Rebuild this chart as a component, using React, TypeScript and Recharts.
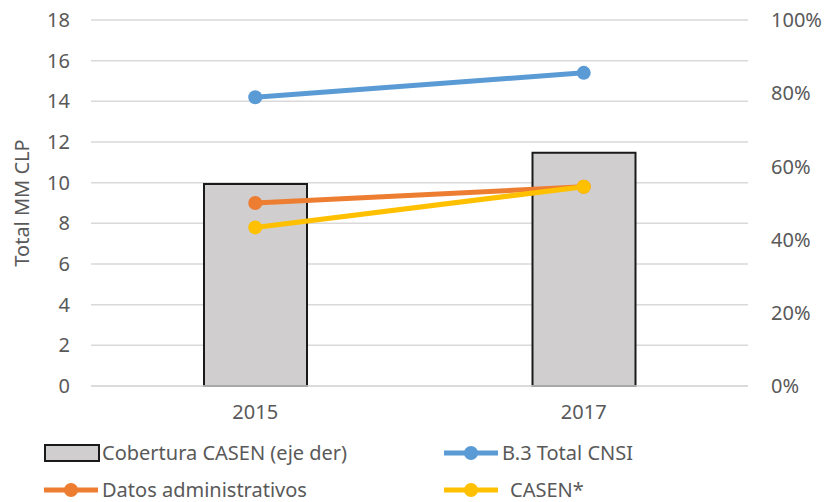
import React from "react";
import {
  ComposedChart,
  Bar,
  Line,
  XAxis,
  YAxis,
  CartesianGrid,
  Legend,
} from "recharts";

const years = ["2015", "2017"];
const coberturaCasen = [55.2, 63.7]; // % (eje der)
const totalCnsi = [14.2, 15.4];
const datosAdministrativos = [9.0, 9.8];
const casen = [7.8, 9.8];

const leftTicks = [0, 2, 4, 6, 8, 10, 12, 14, 16, 18];
const rightTicks = [0, 20, 40, 60, 80, 100];

const FONT = "'Noto Sans', sans-serif";
const TEXT = "#595959";
const FS = 20;

const data = years.map((year, i) => ({
  year,
  cobertura: coberturaCasen[i],
  cnsi: totalCnsi[i],
  datos: datosAdministrativos[i],
  casen: casen[i],
}));

function LineIcon({ color }: { color: string }) {
  return (
    <svg width={58} height={16} style={{ display: "block" }}>
      <line x1={2} y1={8} x2={56} y2={8} stroke={color} strokeWidth={5} />
      <circle cx={29} cy={8} r={7} fill={color} />
    </svg>
  );
}

function BarIcon() {
  return (
    <svg width={56} height={18} style={{ display: "block" }}>
      <rect x={1} y={1} width={54} height={16} fill="#D0CECE" stroke="#1a1a1a" strokeWidth={2} />
    </svg>
  );
}

function LegendContent() {
  const item = (left: number, top: number, icon: React.ReactNode, label: string, gap = 2) => (
    <div
      style={{
        position: "absolute",
        left,
        top,
        height: 24,
        display: "flex",
        alignItems: "center",
        gap,
        color: TEXT,
        fontSize: FS,
        lineHeight: "24px",
        fontFamily: FONT,
        whiteSpace: "nowrap",
      }}
    >
      {icon}
      <span>{label}</span>
    </div>
  );
  return (
    <div style={{ position: "relative", width: 827, height: 66 }}>
      {item(44, 5, <BarIcon />, "Cobertura CASEN (eje der)")}
      {item(442, 5, <LineIcon color="#5B9BD5" />, "B.3 Total CNSI")}
      {item(42, 42, <LineIcon color="#ED7D31" />, "Datos administrativos")}
      {item(442, 42, <LineIcon color="#FFC000" />, "CASEN*", 10)}
    </div>
  );
}

export default function App() {
  return (
    <div style={{ position: "absolute", left: 0, top: 0, width: 827, height: 502, background: "#fff" }}>
      <ComposedChart
        width={827}
        height={502}
        data={data}
        margin={{ top: 20, right: 0, bottom: 0, left: 0 }}
        barSize={103}
      >
        <CartesianGrid yAxisId="left" vertical={false} stroke="#D9D9D9" strokeWidth={1.5} />
        <XAxis
          dataKey="year"
          height={50}
          tickLine={false}
          tickSize={0}
          tickMargin={19}
          axisLine={{ stroke: "#D9D9D9", strokeWidth: 1.5 }}
          tick={{ fill: TEXT, fontSize: FS, fontFamily: FONT }}
        />
        <YAxis
          yAxisId="left"
          width={91}
          domain={[0, 18]}
          ticks={leftTicks}
          interval={0}
          axisLine={false}
          tickLine={false}
          tickSize={0}
          tickMargin={21}
          tick={{ fill: TEXT, fontSize: FS, fontFamily: FONT }}
          label={{
            value: "Total MM CLP",
            angle: -90,
            position: "insideLeft",
            offset: 22,
            style: { textAnchor: "middle", fill: TEXT, fontSize: FS, fontFamily: FONT },
          }}
        />
        <YAxis
          yAxisId="right"
          orientation="right"
          width={79}
          domain={[0, 100]}
          ticks={rightTicks}
          interval={0}
          axisLine={false}
          tickLine={false}
          tickSize={0}
          tickMargin={23}
          tickFormatter={(v) => `${v}%`}
          tick={{ fill: TEXT, fontSize: FS, fontFamily: FONT }}
        />
        <Legend verticalAlign="bottom" content={() => <LegendContent />} />
        <Bar
          yAxisId="right"
          dataKey="cobertura"
          name="Cobertura CASEN (eje der)"
          fill="#D0CECE"
          stroke="#1a1a1a"
          strokeWidth={2}
          isAnimationActive={false}
        />
        <Line
          yAxisId="left"
          dataKey="cnsi"
          name="B.3 Total CNSI"
          stroke="#5B9BD5"
          strokeWidth={5}
          dot={{ r: 7, fill: "#5B9BD5", stroke: "#5B9BD5", strokeWidth: 0 }}
          isAnimationActive={false}
        />
        <Line
          yAxisId="left"
          dataKey="datos"
          name="Datos administrativos"
          stroke="#ED7D31"
          strokeWidth={5}
          dot={{ r: 7, fill: "#ED7D31", stroke: "#ED7D31", strokeWidth: 0 }}
          isAnimationActive={false}
        />
        <Line
          yAxisId="left"
          dataKey="casen"
          name="CASEN*"
          stroke="#FFC000"
          strokeWidth={5}
          dot={{ r: 7, fill: "#FFC000", stroke: "#FFC000", strokeWidth: 0 }}
          isAnimationActive={false}
        />
      </ComposedChart>
    </div>
  );
}
